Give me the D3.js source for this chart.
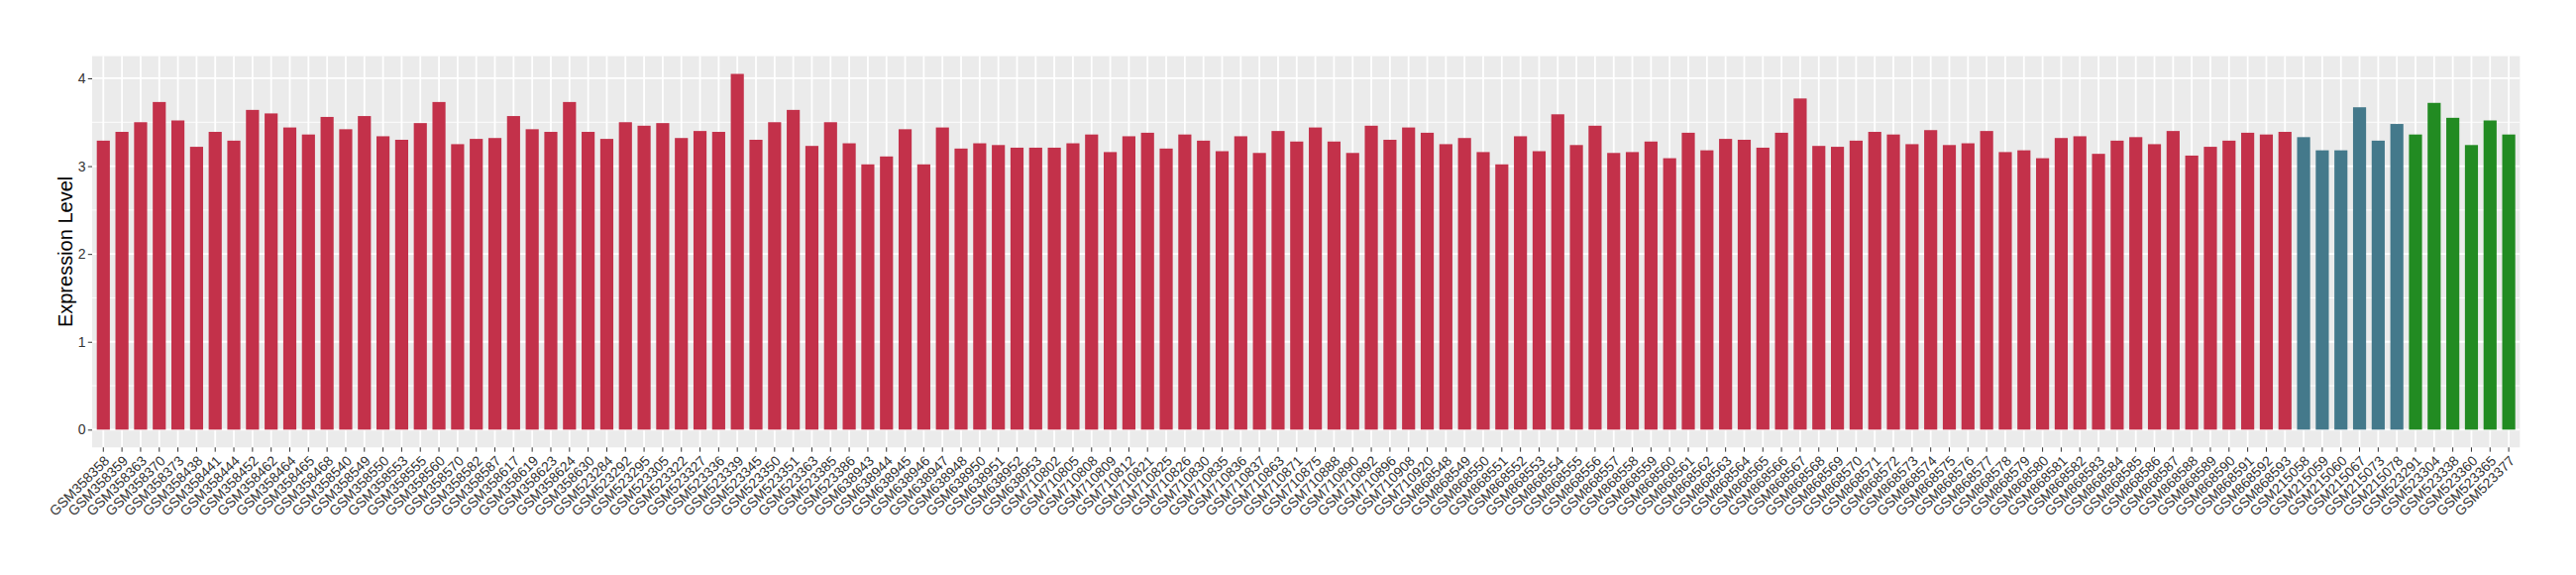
<!doctype html>
<html>
<head>
    <meta charset="utf-8">
    <title>Expression Level by sample</title>
    <style type="text/css">
        body { margin: 0; background: #fff; }
        .axis text { font-family: "Liberation Sans", Arial, sans-serif; font-size: 14px; fill: #333; }
        .axis line { stroke: #333; }
        .axis path { display: none; }
        .ytitle { font-family: "Liberation Sans", Arial, sans-serif; font-size: 20px; fill: #000; }
    </style>
</head>
<body>
<div id="plot"></div>
<script src="https://d3js.org/d3.v7.min.js"></script>
<script>

    // samples of the first group (red)
    var redSamples = ["GSM358358", "GSM358359", "GSM358363", "GSM358370", "GSM358373", "GSM358438", "GSM358441", "GSM358444",
        "GSM358452", "GSM358462", "GSM358464", "GSM358465", "GSM358468", "GSM358540", "GSM358549", "GSM358550",
        "GSM358553", "GSM358555", "GSM358560", "GSM358570", "GSM358582", "GSM358587", "GSM358617", "GSM358619",
        "GSM358623", "GSM358624", "GSM358630", "GSM523284", "GSM523292", "GSM523295", "GSM523305", "GSM523322",
        "GSM523327", "GSM523336", "GSM523339", "GSM523345", "GSM523350", "GSM523351", "GSM523363", "GSM523385",
        "GSM523386", "GSM638943", "GSM638944", "GSM638945", "GSM638946", "GSM638947", "GSM638948", "GSM638950",
        "GSM638951", "GSM638952", "GSM638953", "GSM710802", "GSM710805", "GSM710808", "GSM710809", "GSM710812",
        "GSM710821", "GSM710825", "GSM710826", "GSM710830", "GSM710835", "GSM710836", "GSM710837", "GSM710863",
        "GSM710871", "GSM710875", "GSM710888", "GSM710890", "GSM710892", "GSM710896", "GSM710908", "GSM710920",
        "GSM868548", "GSM868549", "GSM868550", "GSM868551", "GSM868552", "GSM868553", "GSM868554", "GSM868555",
        "GSM868556", "GSM868557", "GSM868558", "GSM868559", "GSM868560", "GSM868561", "GSM868562", "GSM868563",
        "GSM868564", "GSM868565", "GSM868566", "GSM868567", "GSM868568", "GSM868569", "GSM868570", "GSM868571",
        "GSM868572", "GSM868573", "GSM868574", "GSM868575", "GSM868576", "GSM868577", "GSM868578", "GSM868579",
        "GSM868580", "GSM868581", "GSM868582", "GSM868583", "GSM868584", "GSM868585", "GSM868586", "GSM868587",
        "GSM868588", "GSM868589", "GSM868590", "GSM868591", "GSM868592", "GSM868593"];
    var redValues = [3.29, 3.39, 3.50, 3.73, 3.52, 3.22, 3.39, 3.29,
        3.64, 3.60, 3.44, 3.36, 3.56, 3.42, 3.57, 3.34,
        3.30, 3.49, 3.73, 3.25, 3.31, 3.32, 3.57, 3.42,
        3.39, 3.73, 3.39, 3.31, 3.50, 3.46, 3.49, 3.32,
        3.40, 3.39, 4.05, 3.30, 3.50, 3.64, 3.23, 3.50,
        3.26, 3.02, 3.11, 3.42, 3.02, 3.44, 3.20, 3.26,
        3.24, 3.21, 3.21, 3.21, 3.26, 3.36, 3.16, 3.34,
        3.38, 3.20, 3.36, 3.29, 3.17, 3.34, 3.15, 3.40,
        3.28, 3.44, 3.28, 3.15, 3.46, 3.30, 3.44, 3.38,
        3.25, 3.32, 3.16, 3.02, 3.34, 3.17, 3.59, 3.24,
        3.46, 3.15, 3.16, 3.28, 3.09, 3.38, 3.18, 3.31,
        3.30, 3.21, 3.38, 3.77, 3.23, 3.22, 3.29, 3.39,
        3.36, 3.25, 3.41, 3.24, 3.26, 3.40, 3.16, 3.18,
        3.09, 3.32, 3.34, 3.14, 3.29, 3.33, 3.25, 3.40,
        3.12, 3.22, 3.29, 3.38, 3.36, 3.39];

    // second group (blue)
    var blueSamples = ["GSM215058", "GSM215059", "GSM215060", "GSM215067", "GSM215073", "GSM215078"];
    var blueValues = [3.33, 3.18, 3.18, 3.67, 3.29, 3.48];

    // third group (green)
    var greenSamples = ["GSM523291", "GSM523304", "GSM523338", "GSM523360", "GSM523365", "GSM523377"];
    var greenValues = [3.36, 3.72, 3.55, 3.24, 3.52, 3.36];

    var groupColors = ["#c3314a", "#44798b", "#228b22"];

    var yTicks = [0, 1, 2, 3, 4];
    var yMinor = [0.5, 1.5, 2.5, 3.5];

    // one row per bar
    var dataset = [];
    [[redSamples, redValues], [blueSamples, blueValues], [greenSamples, greenValues]].forEach(function (g, gi) {
        g[0].forEach(function (s, i) { dataset.push({ sample: s, value: g[1][i], group: gi }); });
    });

    var width = 2600, height = 580;
    var margin = { top: 56.6, right: 56.6, bottom: 128.7, left: 93 };

    var svg = d3.select("#plot").append("svg")
        .attr("width", width)
        .attr("height", height);

    var xScale = d3.scaleBand()
        .domain(dataset.map(function (d) { return d.sample; }))
        .range([margin.left, width - margin.right])
        .paddingInner(0.3)
        .paddingOuter(0.25);

    var yMax = d3.max(dataset, function (d) { return d.value; });
    var yScale = d3.scaleLinear()
        .domain([-0.05 * yMax, 1.05 * yMax])
        .range([height - margin.bottom, margin.top]);

    var x0 = margin.left, x1 = width - margin.right;
    var y0 = height - margin.bottom, y1 = margin.top;

    // panel background
    svg.append("rect")
        .attr("x", x0).attr("y", y1)
        .attr("width", x1 - x0).attr("height", y0 - y1)
        .attr("fill", "#ebebeb");

    // grid
    svg.append("g").selectAll("line").data(yMinor).enter().append("line")
        .attr("x1", x0).attr("x2", x1)
        .attr("y1", function (d) { return yScale(d); })
        .attr("y2", function (d) { return yScale(d); })
        .attr("stroke", "#fff").attr("stroke-width", 0.9);

    svg.append("g").selectAll("line").data(yTicks).enter().append("line")
        .attr("x1", x0).attr("x2", x1)
        .attr("y1", function (d) { return yScale(d); })
        .attr("y2", function (d) { return yScale(d); })
        .attr("stroke", "#fff").attr("stroke-width", 1.8);

    svg.append("g").selectAll("line").data(dataset).enter().append("line")
        .attr("x1", function (d) { return xScale(d.sample) + xScale.bandwidth() / 2; })
        .attr("x2", function (d) { return xScale(d.sample) + xScale.bandwidth() / 2; })
        .attr("y1", y0).attr("y2", y1)
        .attr("stroke", "#fff").attr("stroke-width", 1.8);

    // bars
    svg.append("g").selectAll("rect").data(dataset).enter().append("rect")
        .attr("x", function (d) { return xScale(d.sample); })
        .attr("width", xScale.bandwidth())
        .attr("y", function (d) { return yScale(d.value); })
        .attr("height", function (d) { return yScale(0) - yScale(d.value); })
        .attr("fill", function (d) { return groupColors[d.group]; });

    // y axis
    svg.append("g")
        .attr("class", "axis")
        .attr("transform", "translate(" + x0 + ",0)")
        .call(d3.axisLeft(yScale).tickValues(yTicks).tickFormat(d3.format("d")).tickSize(4.2).tickPadding(2.2));

    // x axis with rotated labels
    var xAxis = svg.append("g")
        .attr("class", "axis")
        .attr("transform", "translate(0," + y0 + ")")
        .call(d3.axisBottom(xScale).tickSize(4.4).tickPadding(3));

    xAxis.selectAll("text")
        .attr("text-anchor", "end")
        .attr("dy", "0.71em")
        .attr("transform", "rotate(-45 0 7.4)");

    // y axis title
    svg.append("text")
        .attr("class", "ytitle")
        .attr("text-anchor", "middle")
        .attr("transform", "translate(72.7," + ((y0 + y1) / 2) + ") rotate(-90)")
        .text("Expression Level");

</script>
</body>
</html>
